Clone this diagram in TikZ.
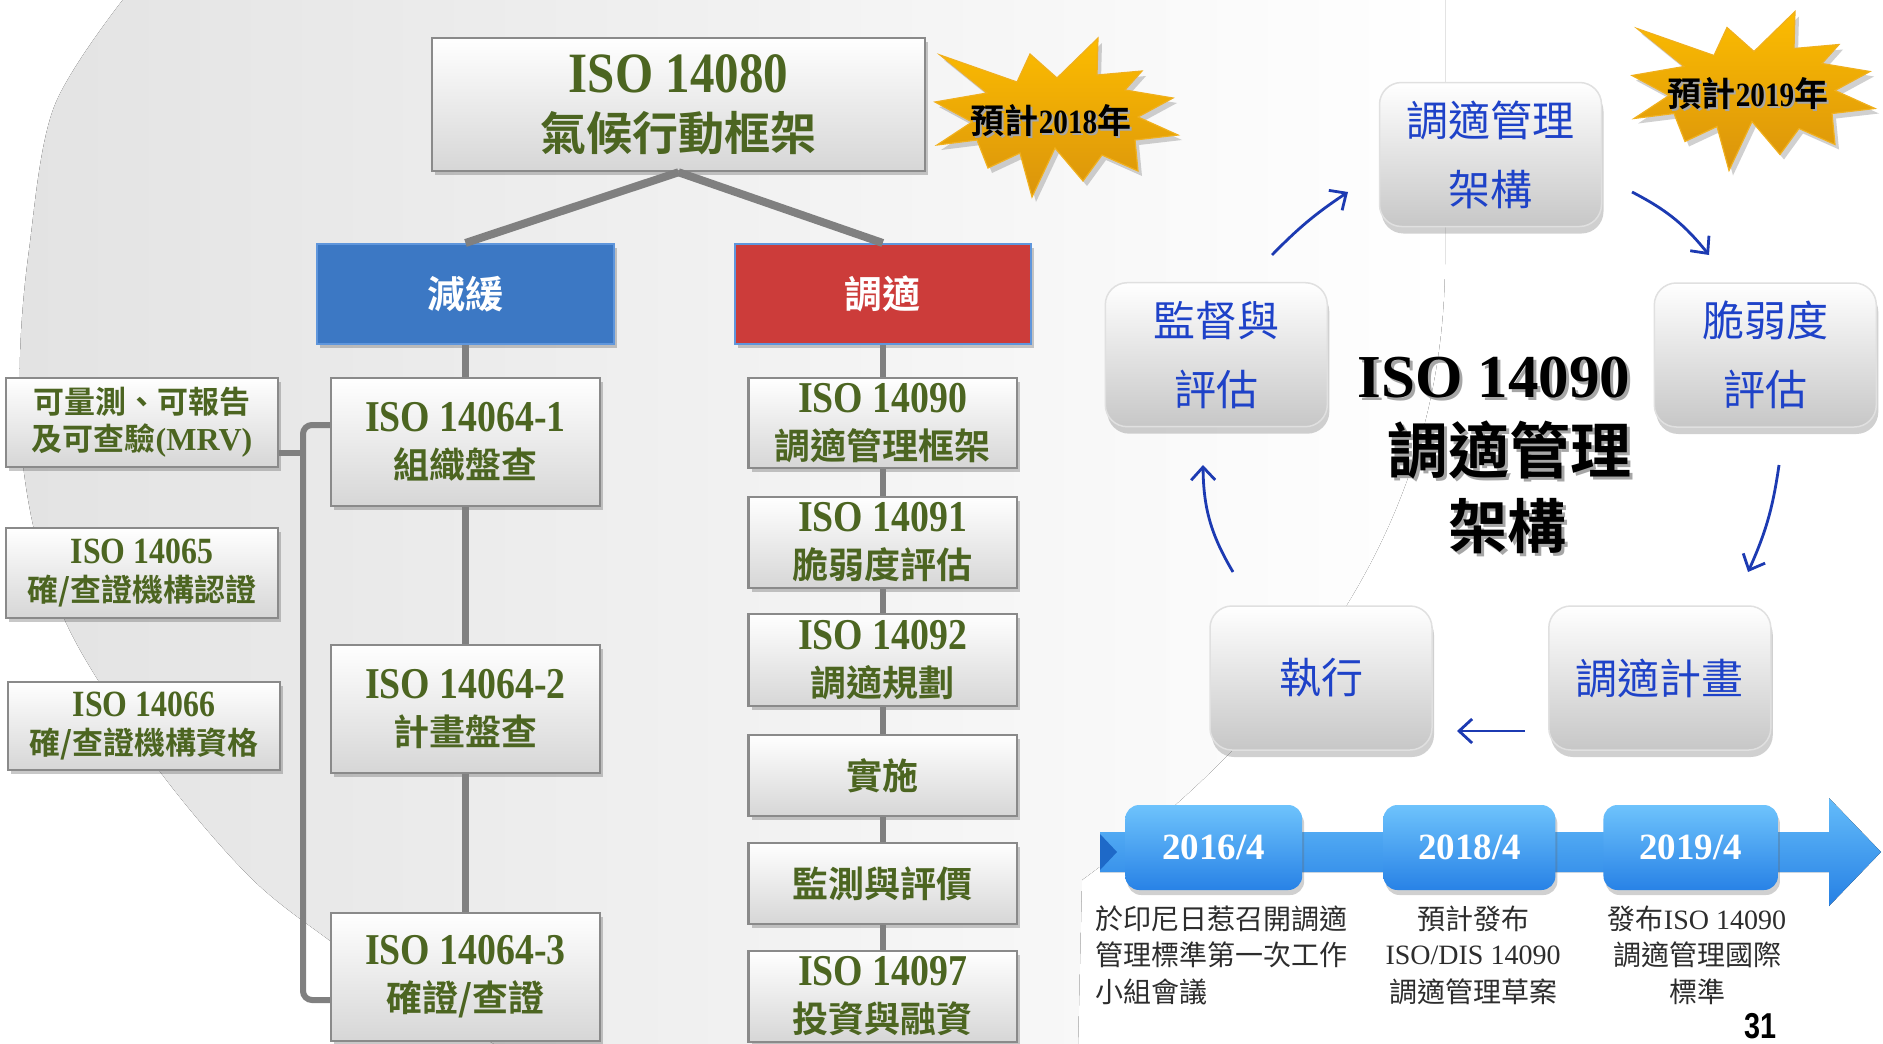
\documentclass[tikz,border=0pt]{standalone}
\usepackage{fontspec}
\setmainfont{Liberation Serif}
\newfontfamily\cjk{Noto Sans CJK TC}
\newfontfamily\cjkb{Noto Sans CJK TC Bold}
\newfontfamily\isob{Liberation Serif}[FakeStretch=0.86]
\newfontfamily\pgnum{Liberation Sans}[FakeStretch=0.8]
\usetikzlibrary{shadows,arrows.meta}
\newcommand\fsz[2]{\fontsize{#1}{#2}\selectfont}
\newcommand\isotxt[2]{{\isob\bfseries\fsz{#1}{#1}#2}}
\definecolor{dgreen}{RGB}{76,101,33}
\definecolor{boxborder}{RGB}{138,138,138}
\definecolor{conngray}{RGB}{128,128,128}
\definecolor{mitblue}{RGB}{60,120,196}
\definecolor{adared}{RGB}{204,60,58}
\definecolor{catborder}{RGB}{95,150,220}
\definecolor{startop}{RGB}{252,188,0}
\definecolor{starbot}{RGB}{218,148,12}
\definecolor{stardraw}{RGB}{240,176,30}
\definecolor{cycblue}{RGB}{30,66,200}
\definecolor{arrblue}{RGB}{28,58,178}
\definecolor{tltop}{RGB}{100,188,250}
\definecolor{tlbot}{RGB}{38,128,228}
\definecolor{tldark}{RGB}{30,105,200}
\definecolor{datetop}{RGB}{110,195,252}
\definecolor{datebot}{RGB}{40,130,230}
\definecolor{tltext}{RGB}{45,45,45}
\def\starpath{(940,55) -- (1017,82) -- (1030,54) -- (1057,78) -- (1098,38) -- (1097,75) -- (1142,71) -- (1125,90) -- (1173,98) -- (1138,117) -- (1178,135) -- (1135,140) -- (1138,171) -- (1102,155) -- (1083,181) -- (1055,148) -- (1032,197) -- (1020,153) -- (988,168) -- (977,140) -- (937,145) -- (972,122) -- (935,102) -- (987,93) -- cycle}
\begin{document}
\begin{tikzpicture}[x=1pt,y=-1pt,
 conn/.style={draw=conngray,line width=6.5pt},
 diag/.style={draw=conngray,line width=8pt},
 bracketline/.style={draw=conngray,line width=6pt,rounded corners=9pt},
 gbox/.style={draw=boxborder,line width=2.5pt,top color=white,bottom color=black!16,inner sep=0pt,align=center,text=dgreen,drop shadow={shadow xshift=3pt,shadow yshift=-4pt,opacity=0.3,fill=black!70}},
 cat/.style={draw=catborder,line width=2pt,inner sep=0pt,text=white,minimum height=100pt,font=\cjkb\fsz{38}{40},drop shadow={shadow xshift=3pt,shadow yshift=-4pt,opacity=0.3,fill=black!70}},
 cyc/.style={rounded corners=22pt,draw=black!12,line width=1.5pt,top color=white,bottom color=black!22,minimum width=222pt,minimum height=144pt,inner sep=0pt,align=center,text=cycblue,font=\cjk\fsz{42}{69},drop shadow={shadow xshift=2pt,shadow yshift=-7pt,opacity=0.3,fill=black!60}},
 carr/.style={draw=arrblue,line width=2.8pt,-{Straight Barb[length=13pt,width=24pt]}},
 datebox/.style={rounded corners=14pt,top color=datetop,bottom color=datebot,minimum height=85pt,inner sep=0pt,text=white,font=\bfseries\fsz{37}{40},drop shadow={shadow xshift=2pt,shadow yshift=-5pt,opacity=0.3,fill=black!60}},
 tl/.style={text=tltext,inner sep=0pt,font=\cjk\fsz{28}{30}},
 starsty/.style={draw=stardraw,line width=1.2pt,top color=startop,bottom color=starbot,drop shadow={shadow xshift=4pt,shadow yshift=-5pt,opacity=0.3,fill=black!60}},
 startxt/.style={inner sep=0pt,font=\cjkb\fsz{34}{36}},
 ttl/.style={inner sep=0pt,anchor=base},
]
\useasboundingbox (0,0) rectangle (1883,1044);
\fill[white] (0,0) rectangle (1883,1044);
% background disc
\fill[left color=black!11,right color=white] plot[smooth,tension=0.55] coordinates {(125,-3) (54,107) (29,250) (20,357) (23,464) (42,560) (80,650) (161,773) (250,877) (329,940) (420,1003) (500,1047)} -- (1078,1047) -- (1082,880) .. controls (1300,720) and (1445,520) .. (1445,260) -- (1445,-3) -- cycle;

% stars
\path[starsty] \starpath;
\begin{scope}[shift={(697,-26.5)}]
\path[starsty] \starpath;
\end{scope}
\node[startxt,text=black!35] (s1sh) at (1053,123) {預計{\isob\bfseries 2018}年};
\node[startxt] (s1) at (1051,121) {預計{\isob\bfseries 2018}年};
\node[startxt,text=black!35] (s2sh) at (1750,96) {預計{\isob\bfseries 2019}年};
\node[startxt] (s2) at (1748,94) {預計{\isob\bfseries 2019}年};

% left tree
\node[gbox,minimum width=493pt,minimum height=133pt,font=\fsz{46}{58}] (top) at (678.5,104.5) {\isotxt{57}{ISO 14080}\\{\cjkb 氣候行動框架}};
\node[cat,fill=mitblue,minimum width=297pt] (mit) at (465.5,294) {減緩};
\node[cat,fill=adared,minimum width=296.5pt] (ada) at (882.75,294) {調適};

\node[gbox,minimum width=269pt,minimum height=128pt,font=\fsz{36}{47}] (b1) at (465.5,442) {\isotxt{44}{ISO 14064-1}\\{\cjkb 組織盤查}};
\node[gbox,minimum width=269pt,minimum height=128pt,font=\fsz{36}{47}] (b2) at (465.5,709) {\isotxt{44}{ISO 14064-2}\\{\cjkb 計畫盤查}};
\node[gbox,minimum width=269pt,minimum height=128pt,font=\fsz{36}{47}] (b3) at (465.5,977) {\isotxt{44}{ISO 14064-3}\\{\cjkb 確證/查證}};

\node[gbox,minimum width=272pt,minimum height=89pt,font=\cjkb\fsz{31}{37}] (mrv) at (142,422.5) {可量測、可報告\\及可查驗{\rmfamily\bfseries\fsz{32}{37}(MRV)}};
\node[gbox,minimum width=272pt,minimum height=90pt,font=\fsz{31}{38}] (i65) at (142,573) {\isotxt{37}{ISO 14065}\\{\cjkb 確/查證機構認證}};
\node[gbox,minimum width=272pt,minimum height=88pt,font=\fsz{31}{38}] (i66) at (144,726) {\isotxt{37}{ISO 14066}\\{\cjkb 確/查證機構資格}};

\node[gbox,minimum width=268.5pt,minimum height=90pt,font=\fsz{36}{47}] (r1) at (882.75,423) {\isotxt{44}{ISO 14090}\\{\cjkb 調適管理框架}};
\node[gbox,minimum width=268.5pt,minimum height=91pt,font=\fsz{36}{47}] (r2) at (882.75,542.5) {\isotxt{44}{ISO 14091}\\{\cjkb 脆弱度評估}};
\node[gbox,minimum width=268.5pt,minimum height=92pt,font=\fsz{36}{47}] (r3) at (882.75,660) {\isotxt{44}{ISO 14092}\\{\cjkb 調適規劃}};
\node[gbox,minimum width=268.5pt,minimum height=81pt,font=\cjkb\fsz{36}{47}] (r4) at (882.75,775.5) {實施};
\node[gbox,minimum width=268.5pt,minimum height=81pt,font=\cjkb\fsz{36}{47}] (r5) at (882.75,883.5) {監測與評價};
\node[gbox,minimum width=268.5pt,minimum height=91pt,font=\fsz{36}{47}] (r6) at (882.75,996.5) {\isotxt{44}{ISO 14097}\\{\cjkb 投資與融資}};

% connectors
\draw[diag] (top.south) -- (mit.north);
\draw[diag] (top.south) -- (ada.north);
\draw[conn] (mit.south) -- (b1.north);
\draw[conn] (b1.south) -- (b2.north);
\draw[conn] (b2.south) -- (b3.north);
\draw[conn] (ada.south) -- (r1.north);
\draw[conn] (r1.south) -- (r2.north);
\draw[conn] (r2.south) -- (r3.north);
\draw[conn] (r3.south) -- (r4.north);
\draw[conn] (r4.south) -- (r5.north);
\draw[conn] (r5.south) -- (r6.north);
\coordinate (brkx) at (303,0);
\coordinate (bt) at ([yshift=17pt]b1.west);
\coordinate (bb) at ([yshift=-23pt]b3.west);
\coordinate (bm) at ([yshift=-30pt]mrv.east);
\draw[bracketline] (bt) -- (bt -| brkx) -- (bb -| brkx) -- (bb);
\draw[bracketline] (bm) -- (bm -| brkx);

% cycle
\node[cyc] (frm) at (1490.5,154.5) {調適管理\\架構};
\node[cyc] (mon) at (1216.3,354.7) {監督與\\評估};
\node[cyc] (vul) at (1765.3,355) {脆弱度\\評估};
\node[cyc] (exe) at (1321,678) {執行};
\node[cyc] (pln) at (1659.8,678) {調適計畫};

\node[ttl,font=\bfseries\fsz{61}{61},text=black!35] (t1s) at (1497,400) {ISO 14090};
\node[ttl,font=\bfseries\fsz{61}{61}] (t1) at (1494,397) {ISO 14090};
\node[ttl,font=\cjkb\fsz{61}{61},text=black!35] (t2s) at (1512,476) {調適管理};
\node[ttl,font=\cjkb\fsz{61}{61}] (t2) at (1509,473) {調適管理};
\node[ttl,font=\cjkb\fsz{59}{61},text=black!35] (t3s) at (1510.5,551) {架構};
\node[ttl,font=\cjkb\fsz{59}{61}] (t3) at (1507.5,548) {架構};

\coordinate (a1s) at (1272,255); \coordinate (a1e) at (1348,192);
\coordinate (a2s) at (1632,192); \coordinate (a2e) at (1709,255);
\coordinate (a3s) at (1779,465); \coordinate (a3e) at (1748,572);
\coordinate (a4s) at (1525,731); \coordinate (a4e) at (1457,731);
\coordinate (a5s) at (1233,572); \coordinate (a5e) at (1203,465);
\draw[carr] (a1s) to[bend left=6] (a1e);
\draw[carr] (a2s) to[bend left=12] (a2e);
\draw[carr] (a3s) to[bend left=8] (a3e);
\draw[carr] (a4s) -- (a4e);
\draw[carr] (a5s) to[bend left=15] (a5e);

% timeline
\fill[top color=tltop,bottom color=tlbot] (1100,832) -- (1829,832) -- (1829,798) -- (1881,852) -- (1829,906) -- (1829,872) -- (1100,872) -- cycle;
\fill[tldark] (1100,834) -- (1117,852) -- (1100,870) -- cycle;
\node[datebox,minimum width=177pt] (d1) at (1213.7,847.5) {2016/4};
\node[datebox,minimum width=172pt] (d2) at (1469.4,847.5) {2018/4};
\node[datebox,minimum width=174.5pt] (d3) at (1690.7,847.5) {2019/4};

\node[tl,anchor=base west] (c1a) at (1095,929) {於印尼日惹召開調適};
\node[tl,anchor=base west] (c1b) at (1095,965) {管理標準第一次工作};
\node[tl,anchor=base west] (c1c) at (1095,1002) {小組會議};
\node[tl,anchor=base] (c2a) at (1473,929) {預計發布};
\node[tl,anchor=base,font=\rmfamily\fsz{28}{30}] (c2b) at (1473,964) {ISO/DIS 14090};
\node[tl,anchor=base] (c2c) at (1473,1002) {調適管理草案};
\node[tl,anchor=base] (c3a) at (1697,929) {發布{\rmfamily ISO 14090}};
\node[tl,anchor=base] (c3b) at (1697,965) {調適管理國際};
\node[tl,anchor=base] (c3c) at (1697,1002) {標準};

\node[anchor=base,inner sep=0pt,font=\pgnum\bfseries\fsz{36}{40}] (pg) at (1760,1038) {31};
\end{tikzpicture}
\end{document}
